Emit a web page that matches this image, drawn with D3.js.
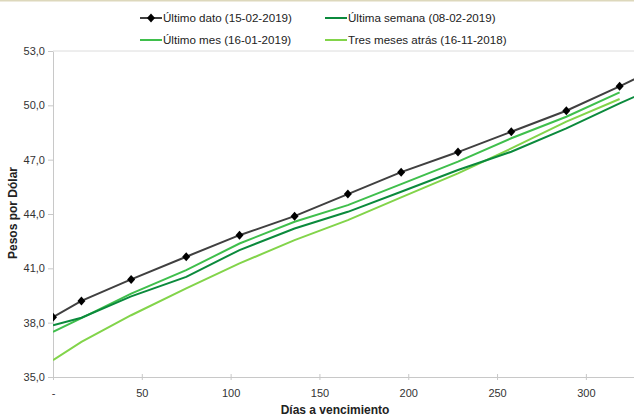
<!DOCTYPE html>
<html><head><meta charset="utf-8">
<script src="https://cdn.jsdelivr.net/npm/d3@7"></script>
<style>
html,body{margin:0;padding:0;background:#fff;}
svg{display:block;font-family:"Liberation Sans",Arial,sans-serif;}
</style></head>
<body><svg id="c" width="634" height="420"></svg>
<script>
const days = [0, 16, 44, 75, 105, 136, 166, 196, 228, 258, 289, 319, 350];
const ultimoDato = [38.30, 39.20, 40.39, 41.64, 42.83, 43.88, 45.10, 46.31, 47.42, 48.54, 49.70, 51.05, 52.50];
const ultimaSemana = [37.86, 38.27, 39.45, 40.53, 42.01, 43.20, 44.12, 45.23, 46.43, 47.44, 48.73, 50.11, 51.45];
const ultimoMes = [37.49, 38.25, 39.60, 40.90, 42.37, 43.57, 44.49, 45.65, 46.89, 48.18, 49.37, 50.72];
const tresMeses = [35.93, 36.94, 38.41, 39.89, 41.27, 42.56, 43.66, 44.92, 46.24, 47.62, 49.10, 50.35];
const seriesNames = ["Último dato (15-02-2019)", "Última semana (08-02-2019)", "Último mes (16-01-2019)", "Tres meses atrás (16-11-2018)"];
const yTicks = [35, 38, 41, 44, 47, 50, 53];
const xTicks = [0, 50, 100, 150, 200, 250, 300];

const colors = ["#404040", "#0b8a3c", "#3fbf4c", "#82d44a"];
const svg = d3.select("#c");
const L = 53, R = 634, T = 51, B = 377;
const x = d3.scaleLinear().domain([0, 327.1]).range([L, R]);
const y = d3.scaleLinear().domain([35, 53]).range([B, T]);

svg.append("rect").attr("x",0).attr("y",0).attr("width",634).attr("height",1.5).attr("fill","#ddd8bc");

svg.append("defs").append("clipPath").attr("id","clip")
  .append("rect").attr("x",L).attr("y",T-5).attr("width",R-L).attr("height",B-T+10);

const fmt = d => d3.format(".1f")(d).replace(".", ",");
const yAxis = svg.append("g").attr("transform",`translate(${L},0)`)
  .call(d3.axisLeft(y).tickValues(yTicks).tickSize(5).tickSizeOuter(0).tickFormat(fmt));
const xAxis = svg.append("g").attr("transform",`translate(0,${B})`)
  .call(d3.axisBottom(x).tickValues(xTicks).tickSize(4).tickSizeOuter(0).tickFormat(d => d===0 ? "-" : d));
[yAxis, xAxis].forEach(g => {
  g.select(".domain").attr("stroke","#c8c8c8");
  g.selectAll(".tick line").attr("stroke","#c8c8c8");
  g.selectAll(".tick text").attr("fill","#333").attr("font-size","11px").attr("font-family","'Liberation Sans',Arial,sans-serif");
});
xAxis.selectAll(".tick line").attr("y1",-3).attr("y2",3);
xAxis.selectAll(".tick text").attr("dy","1.2em");
yAxis.selectAll(".tick text").attr("x",-8);
svg.append("line").attr("x1",L).attr("x2",R).attr("y1",T).attr("y2",T).attr("stroke","#dcdcdc");

const all = [ultimoDato, ultimaSemana, ultimoMes, tresMeses];
const line = d3.line().x((d,i)=>x(days[i])).y(d=>y(d));
const g = svg.append("g").attr("clip-path","url(#clip)");
[3,2,1,0].forEach(k => {
  g.append("path").datum(all[k]).attr("d", line).attr("fill","none")
    .attr("stroke", colors[k]).attr("stroke-width", 2);
});
const diamondPath = "M0,-4.5L4,0L0,4.5L-4,0Z";
g.selectAll(".pt").data(ultimoDato.slice(0, 12)).enter().append("path")
  .attr("d", diamondPath).attr("fill","#000")
  .attr("transform",(d,i)=>`translate(${x(days[i])},${y(d)})`);

const leg = [{x:140,y:18},{x:325,y:18},{x:140,y:40},{x:325,y:40}];
leg.forEach((p,k) => {
  svg.append("line").attr("x1",p.x).attr("x2",p.x+22).attr("y1",p.y).attr("y2",p.y)
    .attr("stroke",colors[k]).attr("stroke-width",2);
  if (k===0) svg.append("path").attr("d",diamondPath).attr("fill","#000").attr("transform",`translate(${p.x+11},${p.y})`);
  svg.append("text").attr("x",p.x+23).attr("y",p.y).attr("dy","0.35em")
    .attr("font-size","11.6px").attr("fill","#222").text(seriesNames[k]);
});

svg.append("text").attr("x",335).attr("y",414).attr("text-anchor","middle")
  .attr("font-size","12px").attr("font-weight","bold").attr("fill","#222").text("Días a vencimiento");
svg.append("text").attr("transform","translate(17,213) rotate(-90)").attr("text-anchor","middle")
  .attr("font-size","12px").attr("font-weight","bold").attr("fill","#222").text("Pesos por Dólar");
</script></body></html>
